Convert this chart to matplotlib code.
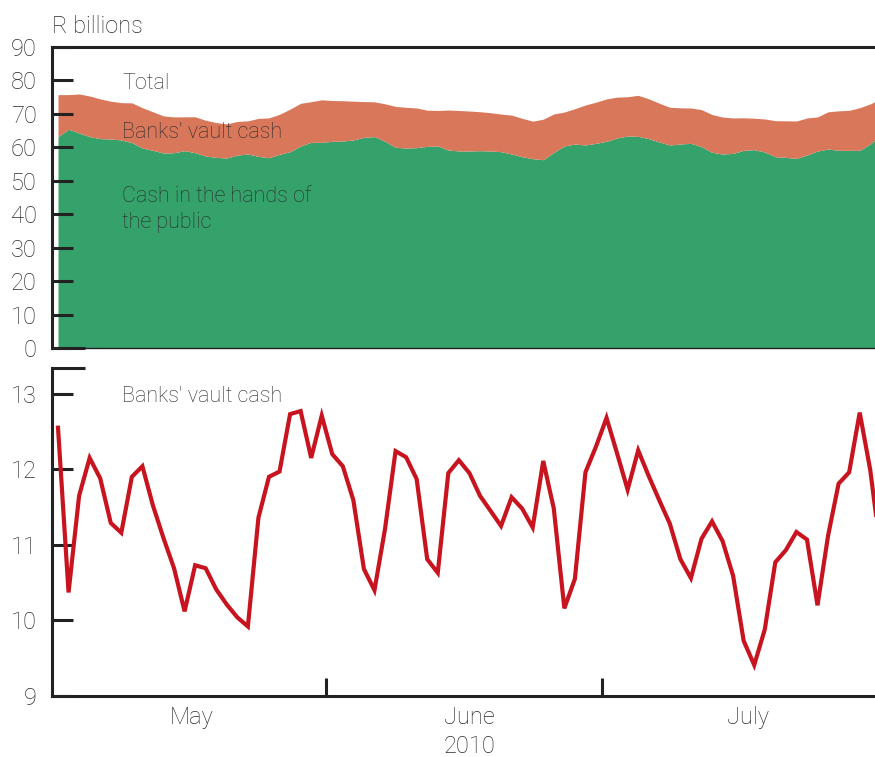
import matplotlib

matplotlib.use("Agg")
import matplotlib.pyplot as plt
import numpy as np

# Banks' vault cash (R billions), one value per observation
vault_cash = [
    12.55, 10.37, 11.65, 12.15, 11.88, 11.29, 11.16, 11.90, 12.04, 11.52,
    11.09, 10.69, 10.12, 10.73, 10.69, 10.41, 10.21, 10.04, 9.92, 11.36,
    11.90, 11.97, 12.73, 12.77, 12.15, 12.71, 12.20, 12.04, 11.59, 10.68,
    10.40, 11.21, 12.24, 12.16, 11.87, 10.81, 10.63, 11.95, 12.12, 11.95,
    11.65, 11.45, 11.25, 11.63, 11.48, 11.23, 12.11, 11.48, 10.16, 10.55,
    11.96, 12.30, 12.68, 12.21, 11.73, 12.25, 11.91, 11.59, 11.28, 10.81,
    10.56, 11.08, 11.31, 11.05, 10.59, 9.73, 9.41, 9.88, 10.77, 10.93,
    11.17, 11.07, 10.20, 11.12, 11.81, 11.96, 12.75, 11.99, 10.90,
]

# Cash in the hands of the public (R billions)
public_cash = [
    63.2, 65.4, 64.3, 63.2, 62.6, 62.5, 62.2, 61.4, 59.8, 59.1,
    58.3, 58.4, 59.0, 58.4, 57.4, 57.0, 56.8, 57.7, 58.0, 57.3,
    56.9, 57.9, 58.7, 60.4, 61.5, 61.5, 61.8, 61.9, 62.2, 63.0,
    63.2, 61.8, 60.0, 59.8, 59.9, 60.3, 60.4, 59.2, 58.9, 58.9,
    59.0, 58.9, 58.7, 58.0, 57.2, 56.6, 56.3, 58.5, 60.4, 61.0,
    60.7, 61.2, 61.8, 62.8, 63.4, 63.3, 62.6, 61.6, 60.7, 61.0,
    61.2, 60.2, 58.5, 58.0, 58.2, 59.1, 59.3, 58.6, 57.2, 57.0,
    56.7, 57.7, 58.9, 59.5, 59.1, 59.1, 59.1, 61.0, 63.6,
]

months = ["May", "June", "July"]
month_bounds = [25.4, 51.6]
month_centres = [12.7, 39.0, 65.4]
year_label = "2010"

TXT = "#2a2a2a"
AXC = "#222222"
GREEN = "#35a26b"
ORANGE = "#d9775b"
RED = "#c8141f"

plt.rcParams["font.family"] = ["Roboto", "DejaVu Sans"]
plt.rcParams["font.weight"] = "light"

x = np.arange(len(vault_cash))
public = np.array(public_cash)
total = public + np.array(vault_cash)
xlim = (-0.57, 77.45)

fig = plt.figure(figsize=(8.75, 7.57), dpi=100)
ax1 = fig.add_axes([52 / 875, 1 - 348 / 757, 823 / 875, 301 / 757])
ax2 = fig.add_axes([52 / 875, 1 - 696 / 757, 823 / 875, 328 / 757])

# top panel: stacked area
ax1.fill_between(x, 0, public, color=GREEN, lw=0)
ax1.fill_between(x, public, total, color=ORANGE, lw=0)
ax1.set_xlim(*xlim)
ax1.set_ylim(0, 90)
ax1.set_yticks(range(0, 91, 10))
ax1.set_xticks([])
for s in ["left", "top"]:
    ax1.spines[s].set_linewidth(2.2)
ax1.spines["bottom"].set_linewidth(1.0)
ax1.spines["right"].set_visible(False)
for s in ax1.spines.values():
    s.set_color(AXC)
ax1.tick_params(axis="y", direction="in", length=15, width=2.2, pad=11,
                labelsize=17, labelcolor=TXT, color=AXC)
ax1.plot([0, 33 / 823], [0, 0], transform=ax1.transAxes, color=AXC,
         lw=2.2, clip_on=False, solid_capstyle="butt")

ytr1 = ax1.get_yaxis_transform()
ax1.text(70 / 823, 79.0, "Total", fontsize=15.5, color=TXT, va="center", transform=ytr1)
ax1.text(70 / 823, 64.3, "Banks' vault cash", fontsize=15.5, color=TXT, va="center",
         transform=ytr1)
ax1.text(70 / 823, 41.3, "Cash in the hands of\nthe public", fontsize=15.5, color=TXT,
         va="center", linespacing=1.3, transform=ytr1)

# bottom panel: vault cash line
ax2.plot(x, vault_cash, color=RED, lw=3.0, solid_joinstyle="miter")
ax2.set_xlim(*xlim)
ax2.set_ylim(9, 13.34)
ax2.set_yticks([9, 10, 11, 12, 13])
ax2.set_xticks(month_bounds)
ax2.set_xticklabels([])
for s in ["left", "bottom"]:
    ax2.spines[s].set_linewidth(2.2)
    ax2.spines[s].set_color(AXC)
ax2.spines["top"].set_visible(False)
ax2.spines["right"].set_visible(False)
ax2.tick_params(axis="y", direction="in", length=15, width=2.2, pad=11,
                labelsize=17, labelcolor=TXT, color=AXC)
ax2.tick_params(axis="x", direction="in", length=13, width=2.2, color=AXC)
ax2.plot([0, 33 / 823], [1, 1], transform=ax2.transAxes, color=AXC,
         lw=2.2, clip_on=False, solid_capstyle="butt")
ax2.text(70 / 823, 12.96, "Banks' vault cash", fontsize=15.5, color=TXT, va="center",
         transform=ax2.get_yaxis_transform())

xtr2 = ax2.get_xaxis_transform()
for m, c in zip(months, month_centres):
    ax2.text(c, -0.066, m, fontsize=17, color=TXT, ha="center", va="center",
             transform=xtr2)
ax2.text(month_centres[1], -0.155, year_label, fontsize=17, color=TXT,
         ha="center", va="center", transform=xtr2)

fig.text(52 / 875, 1 - 26 / 757, "R billions", fontsize=17, color=TXT, va="center")

fig.savefig("out.png", dpi=100)
